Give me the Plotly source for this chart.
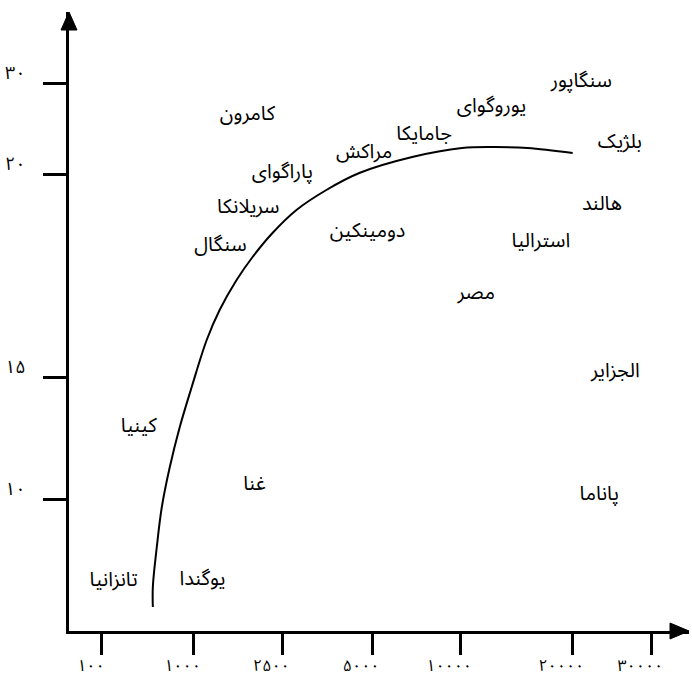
import plotly.graph_objects as go

# Axis ticks (schematic positions on the original drawing)
x_tick_labels = ["۱۰۰", "۱۰۰۰", "۲۵۰۰", "۵۰۰۰", "۱۰۰۰۰", "۲۰۰۰۰", "۳۰۰۰۰"]
x_tick_pos = [0, 1.02, 2.01, 3.01, 3.99, 5.24, 6.12]
y_tick_labels = ["۱۰", "۱۵", "۲۰", "۳۰"]
y_tick_pos = [13.2, 25.4, 45.7, 54.8]

# Countries
countries = ["کامرون", "پاراگوای", "سریلانکا", "سنگال", "مراکش", "جامایکا",
             "یوروگوای", "سنگاپور", "بلژیک", "هالند", "دومینکین", "استرالیا",
             "مصر", "الجزایر", "پاناما", "کینیا", "غنا", "تانزانیا", "یوگندا"]
country_x = [1.62, 2.01, 1.63, 1.32, 2.92, 3.59, 4.34, 5.34, 5.77, 5.57,
             2.96, 4.89, 4.17, 5.72, 5.54, 0.41, 1.70, 0.13, 1.12]
country_y = [51.6, 45.8, 42.3, 38.5, 47.8, 49.6, 52.4, 54.9, 48.8, 42.6,
             39.9, 38.9, 33.7, 25.9, 13.6, 20.4, 14.6, 5.0, 5.1]

# Fitted curve
curve_x = [0.567, 0.567, 0.611, 0.667, 0.756, 0.867, 1.0, 1.167, 1.311, 1.5,
           1.678, 1.9, 2.167, 2.5, 2.867, 3.456, 4.011, 4.378, 4.744, 5.244]
curve_y = [2.4, 4.4, 8.4, 12.4, 16.4, 20.4, 24.4, 29.1, 32.1, 35.1,
           37.4, 39.8, 42.1, 44.1, 45.8, 47.4, 48.3, 48.4, 48.3, 47.8]

FONT = "Noto Sans Arabic, Vazirmatn, DejaVu Sans, sans-serif"

fig = go.Figure()
fig.add_trace(go.Scatter(x=curve_x, y=curve_y, mode="lines",
                         line=dict(color="black", width=2, shape="spline",
                                   smoothing=1.0),
                         hoverinfo="skip", showlegend=False))
fig.add_trace(go.Scatter(x=country_x, y=country_y, mode="text", text=countries,
                         textposition="middle center",
                         textfont=dict(family=FONT, size=20, color="black"),
                         hoverinfo="skip", showlegend=False))

# arrow heads
fig.add_shape(type="path", xref="paper", yref="paper", xsizemode="pixel",
              ysizemode="pixel", xanchor=0, yanchor=1,
              path="M -8 -18 L 0 0 L 8 -18 Z", fillcolor="black",
              line=dict(color="black", width=1))
fig.add_shape(type="path", xref="paper", yref="paper", xsizemode="pixel",
              ysizemode="pixel", xanchor=1, yanchor=0,
              path="M -19 8 L 0 0 L -19 -8 Z", fillcolor="black",
              line=dict(color="black", width=1))

fig.update_layout(
    width=692, height=679,
    margin=dict(l=69, r=3, t=12, b=48, autoexpand=False),
    paper_bgcolor="white", plot_bgcolor="white",
    font=dict(family=FONT, color="black"),
    xaxis=dict(range=[-0.367, 6.54], showgrid=False, zeroline=False,
               automargin=False,
               showline=True, linecolor="black", linewidth=2.5,
               tickmode="array", tickvals=x_tick_pos, ticktext=x_tick_labels,
               ticks="outside", ticklen=21, tickwidth=2.5, tickcolor="black",
               tickfont=dict(size=16, family=FONT),
               ticklabelshift=-11, ticklabelstandoff=-3),
    yaxis=dict(range=[0, 61.9], showgrid=False, zeroline=False,
               automargin=False,
               showline=True, linecolor="black", linewidth=2.5,
               tickmode="array", tickvals=y_tick_pos, ticktext=y_tick_labels,
               ticks="outside", ticklen=23, tickwidth=2.5, tickcolor="black",
               tickfont=dict(size=18, family=FONT),
               ticklabelshift=-10, ticklabelstandoff=14),
)

fig.write_html("out.html", config={"displayModeBar": False},
               post_script="document.body.style.margin='0';"
                           "document.body.style.overflow='hidden';")
